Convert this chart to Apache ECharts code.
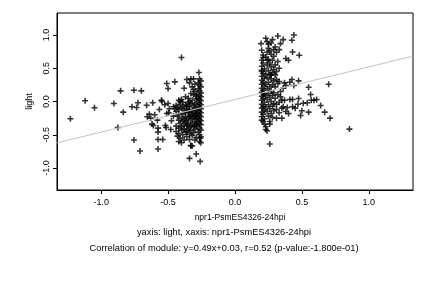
<!DOCTYPE html>
<html>
<head>
<meta charset="utf-8">
<script src="https://cdn.jsdelivr.net/npm/echarts@6/dist/echarts.min.js"></script>
<style>
  html, body { margin: 0; padding: 0; background: #fff; }
  #main { width: 432px; height: 288px; }
</style>
</head>
<body>
<div id="main"></div>
<script>
// points, group with x < 0
var leftGroup = [
  [-1.23,-0.26],[-1.12,0.01],[-1.05,-0.095],[-0.905,-0.03],[-0.875,-0.39],[-0.855,0.16],[-0.835,-0.16],
  [-0.755,0.17],[-0.755,-0.58],[-0.77,-0.08],[-0.735,-0.09],[-0.725,-0.02],[-0.70,0.16],[-0.71,-0.745],
  [-0.66,-0.055],[-0.655,-0.23],[-0.64,-0.19],[-0.615,-0.02],[-0.62,-0.34],[-0.61,-0.36],[-0.63,-0.25],
  [-0.60,-0.20],[-0.58,-0.28],[-0.575,-0.57],[-0.575,-0.715],[-0.54,-0.57],[-0.575,-0.46],[-0.575,-0.40],
  [-0.565,-0.12],[-0.55,0.02],[-0.545,0.0],[-0.525,-0.05],[-0.51,0.27],[-0.50,0.195],[-0.50,-0.03],
  [-0.51,-0.18],[-0.52,-0.36],[-0.515,-0.39],[-0.495,-0.17],[-0.49,-0.11],[-0.48,-0.42],[-0.475,-0.29],
  [-0.45,0.295],[-0.46,-0.22],[-0.46,-0.08],
  [-0.36,0.33],[-0.33,0.34],[-0.31,0.34],[-0.34,0.28],[-0.30,0.26],[-0.38,0.20],[-0.32,0.22],
  [-0.42,0.02],[-0.41,0.0],[-0.40,0.03],[-0.39,-0.01],[-0.33,0.12],[-0.31,0.10],[-0.30,0.15],[-0.29,0.08],
  [-0.35,0.05],[-0.32,0.02],[-0.29,0.04],[-0.37,0.07],[-0.34,0.00],[-0.31,0.18],
  [-0.44,-0.06],[-0.43,-0.09],[-0.42,-0.12],[-0.44,-0.15],[-0.41,-0.04],[-0.40,-0.10],[-0.39,-0.07],
  [-0.38,-0.13],[-0.37,-0.05],[-0.36,-0.11],[-0.35,-0.16],[-0.34,-0.08],[-0.33,-0.03],[-0.32,-0.14],
  [-0.31,-0.06],[-0.30,-0.10],[-0.29,-0.18],[-0.35,-0.02],[-0.33,-0.19],[-0.31,-0.16],[-0.30,-0.04],
  [-0.29,-0.12],[-0.37,-0.17],[-0.39,-0.19],[-0.42,-0.18],[-0.45,-0.11],[-0.36,-0.07],[-0.34,-0.13],
  [-0.43,-0.22],[-0.42,-0.28],[-0.41,-0.33],[-0.40,-0.25],[-0.39,-0.30],[-0.38,-0.36],[-0.37,-0.23],
  [-0.36,-0.29],[-0.35,-0.34],[-0.34,-0.22],[-0.33,-0.27],[-0.32,-0.32],[-0.31,-0.38],[-0.30,-0.21],
  [-0.29,-0.26],[-0.35,-0.25],[-0.33,-0.36],[-0.31,-0.24],[-0.30,-0.30],[-0.29,-0.34],[-0.40,-0.38],
  [-0.44,-0.37],[-0.37,-0.32],[-0.32,-0.22],[-0.34,-0.39],[-0.42,-0.40],[-0.38,-0.27],[-0.36,-0.37],
  [-0.30,-0.37],[-0.29,-0.22],
  [-0.44,-0.45],[-0.43,-0.52],[-0.42,-0.48],[-0.41,-0.55],[-0.40,-0.43],[-0.39,-0.50],[-0.38,-0.58],
  [-0.37,-0.46],[-0.36,-0.53],[-0.35,-0.42],[-0.34,-0.49],[-0.33,-0.44],[-0.32,-0.51],[-0.31,-0.47],
  [-0.30,-0.42],[-0.29,-0.54],[-0.40,-0.62],[-0.33,-0.66],[-0.32,-0.67],[-0.36,-0.45],[-0.38,-0.41],
  [-0.42,-0.60],[-0.30,-0.58],[-0.34,-0.57],
  [-0.34,-0.855],[-0.29,-0.79],[-0.26,-0.90],[-0.33,-0.665],[-0.40,0.66],[-0.27,0.435],
  [-0.265,0.34],[-0.255,0.31],[-0.275,0.28],[-0.265,0.25],[-0.255,0.22],[-0.275,0.19],[-0.265,0.16],
  [-0.255,0.13],[-0.285,0.11],[-0.265,0.09],[-0.255,0.07],[-0.275,0.05],[-0.265,0.03],[-0.255,0.01],
  [-0.285,-0.01],[-0.265,-0.03],[-0.255,-0.05],[-0.275,-0.07],[-0.265,-0.09],[-0.255,-0.11],[-0.285,-0.13],
  [-0.265,-0.15],[-0.255,-0.17],[-0.275,-0.19],[-0.265,-0.21],[-0.255,-0.23],[-0.285,-0.25],[-0.265,-0.27],
  [-0.255,-0.29],[-0.275,-0.31],[-0.265,-0.33],[-0.255,-0.35],[-0.285,-0.37],[-0.265,-0.40],[-0.255,-0.43],
  [-0.275,-0.46],[-0.265,-0.50],[-0.255,-0.53],[-0.26,-0.55],[-0.265,-0.60],[-0.255,-0.62]
];

// points, group with x > 0
var rightGroup = [
  [0.195,0.87],[0.2,0.77],[0.21,0.70],[0.2,0.62],[0.21,0.58],[0.2,0.53],[0.22,0.49],[0.2,0.45],
  [0.21,0.42],[0.2,0.38],[0.22,0.35],[0.2,0.32],[0.21,0.29],[0.2,0.26],[0.22,0.23],[0.2,0.20],
  [0.21,0.17],[0.2,0.14],[0.22,0.11],[0.2,0.08],[0.21,0.05],[0.2,0.02],[0.22,-0.01],[0.2,-0.04],
  [0.21,-0.07],[0.2,-0.10],[0.22,-0.13],[0.2,-0.16],[0.21,-0.19],[0.2,-0.23],[0.22,-0.26],[0.21,-0.30],
  [0.22,-0.34],[0.23,-0.38],[0.23,-0.42],[0.24,-0.44],[0.21,0.66],[0.20,0.47],[0.21,0.12],[0.20,-0.28],
  [0.23,0.95],[0.24,0.90],[0.25,0.86],[0.25,0.80],[0.24,0.74],[0.26,0.76],[0.27,0.71],[0.23,0.67],
  [0.25,0.63],[0.26,0.58],[0.28,0.62],[0.24,0.55],[0.27,0.52],[0.29,0.48],[0.25,0.46],[0.23,0.41],
  [0.26,0.40],[0.28,0.43],[0.30,0.40],[0.24,0.36],[0.27,0.34],[0.29,0.31],[0.31,0.33],[0.33,0.30],
  [0.25,0.29],[0.23,0.26],[0.26,0.22],[0.28,0.25],[0.30,0.22],[0.32,0.27],[0.24,0.19],[0.27,0.16],
  [0.29,0.13],[0.25,0.12],[0.23,0.09],[0.26,0.06],[0.28,0.09],[0.30,0.05],[0.32,0.10],[0.34,0.07],
  [0.24,0.03],[0.27,0.0],[0.29,-0.03],[0.25,-0.05],[0.23,-0.08],[0.26,-0.11],[0.28,-0.07],[0.31,-0.04],
  [0.33,-0.01],[0.35,0.02],[0.24,-0.15],[0.27,-0.18],[0.29,-0.14],[0.31,-0.12],[0.33,-0.17],[0.35,-0.10],
  [0.25,-0.22],[0.28,-0.24],[0.26,-0.30],[0.26,-0.34],[0.26,-0.64],[0.31,-0.25],[0.35,-0.25],[0.36,-0.08],
  [0.37,0.02],[0.34,0.15],[0.36,0.20],[0.37,0.28],[0.38,0.24],[0.31,0.45],[0.33,0.50],[0.30,0.55],
  [0.32,0.60],[0.29,0.68],[0.31,0.74],[0.33,0.78],[0.29,0.78],[0.32,0.985],[0.34,0.87],[0.36,0.93],
  [0.38,0.645],[0.40,0.62],[0.30,0.82],[0.27,0.88],[0.28,0.93],[0.24,0.62],[0.27,0.40],
  [0.44,1.0],[0.425,0.92],[0.43,0.745],[0.48,0.695],[0.70,0.26],[0.55,0.215],[0.565,0.105],[0.475,0.31],
  [0.425,0.33],[0.41,0.29],[0.44,0.24],[0.59,0.02],[0.475,0.045],[0.51,-0.025],[0.54,-0.02],[0.61,0.03],
  [0.64,-0.06],[0.67,-0.16],[0.71,-0.25],[0.855,-0.415],[0.55,-0.16],[0.49,-0.21],[0.50,-0.14],[0.43,-0.08],
  [0.41,0.03],[0.43,0.03],[0.39,-0.09],[0.45,-0.10],[0.47,-0.04],[0.40,-0.18],[0.38,-0.15],[0.57,0.02]
];

var tickValues = [-1.0, -0.5, 0.0, 0.5, 1.0];
var axisMin = -1.33;
var axisMax = 1.33;
var slope = 0.49;
var intercept = 0.03;
var xName = 'npr1-PsmES4326-24hpi';
var yName = 'light';
var subTitle = 'yaxis: light, xaxis: npr1-PsmES4326-24hpi';
var corrTitle = 'Correlation of module: y=0.49x+0.03, r=0.52 (p-value:-1.800e-01)';

// fitted line from the axis edges
var fitLine = [axisMin, axisMax].map(function (x) { return [x, slope * x + intercept]; });

var plusPath = 'path://M3.7,0H6.3V3.7H10V6.3H6.3V10H3.7V6.3H0V3.7H3.7Z';
var font = 'Liberation Sans';

var myChart = echarts.init(document.getElementById('main'), null, {renderer: 'canvas'});

myChart.setOption({
    animation: false,
    backgroundColor: '#fff',
    textStyle: {fontFamily: font},
    grid: {
        left: 57, right: 19, top: 13, bottom: 98,
        show: true, borderColor: '#000', borderWidth: 1,
        containLabel: false, outerBoundsMode: 'none'
    },
    xAxis: {
        type: 'value', min: axisMin, max: axisMax,
        name: xName, nameLocation: 'middle', nameGap: 23,
        nameTextStyle: {fontSize: 8.5, color: '#000', fontFamily: font, padding: [0, 0, 0, 10]},
        splitLine: {show: false},
        axisLine: {show: true, onZero: false, lineStyle: {color: '#000'}},
        axisTick: {show: true, length: 4, customValues: tickValues, lineStyle: {color: '#000'}},
        axisLabel: {
            customValues: tickValues, fontSize: 9, color: '#000', margin: 8, fontFamily: font,
            formatter: function (v) { return v.toFixed(1); }
        }
    },
    yAxis: {
        type: 'value', min: axisMin, max: axisMax,
        name: yName, nameLocation: 'middle', nameGap: 19, nameRotate: 90,
        nameTextStyle: {fontSize: 9, color: '#000', fontFamily: font},
        splitLine: {show: false},
        axisLine: {show: true, onZero: false, lineStyle: {color: '#000'}},
        axisTick: {show: true, length: 4, customValues: tickValues, lineStyle: {color: '#000'}},
        axisLabel: {
            customValues: tickValues, fontSize: 9, color: '#000', margin: 6, rotate: 90, fontFamily: font,
            formatter: function (v) { return v.toFixed(1); }
        }
    },
    graphic: [
        {type: 'text', x: 224, y: 228,
         style: {text: subTitle, fontSize: 9.3, fill: '#000', fontFamily: font, align: 'center'}},
        {type: 'text', x: 224, y: 244,
         style: {text: corrTitle, fontSize: 9.3, fill: '#000', fontFamily: font, align: 'center'}}
    ],
    series: [
        {type: 'scatter', data: leftGroup, symbol: plusPath, symbolSize: 6,
         itemStyle: {color: '#000'}, silent: true},
        {type: 'scatter', data: rightGroup, symbol: plusPath, symbolSize: 6,
         itemStyle: {color: '#000'}, silent: true},
        {type: 'line', data: fitLine, symbol: 'none', z: 3,
         lineStyle: {color: '#c4c4c4', width: 1}, silent: true}
    ]
});
</script>
</body>
</html>
